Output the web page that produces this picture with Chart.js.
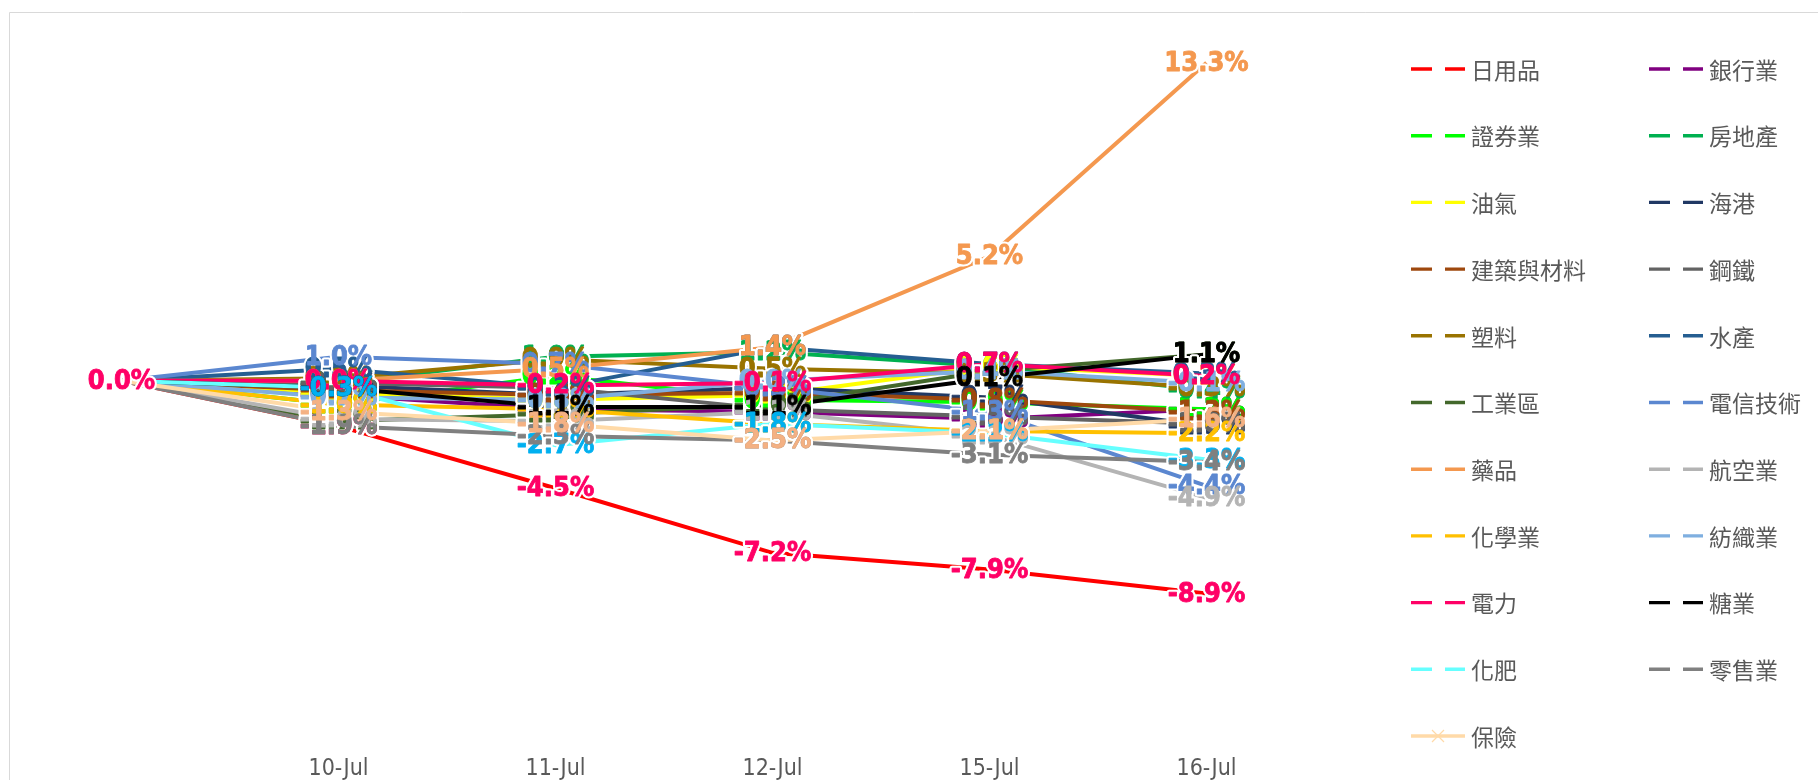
<!DOCTYPE html>
<html><head><meta charset="utf-8">
<script src="https://cdn.jsdelivr.net/npm/chart.js@4.4.1/dist/chart.umd.min.js"></script>
<style>html,body{margin:0;padding:0;background:#fff;overflow:hidden}canvas{display:block}</style>
</head><body><canvas id="c" width="1818" height="780"></canvas>
<script>
// ---- data ----
const categories = ['', '10-Jul', '11-Jul', '12-Jul', '15-Jul', '16-Jul'];
const seriesNames = ['日用品','銀行業','證券業','房地產','油氣','海港','建築與材料','鋼鐵','塑料','水產','工業區','電信技術','藥品','航空業','化學業','紡織業','電力','糖業','化肥','零售業','保險'];
const dailyGoods      = [0, -1.9, -4.5, -7.2, -7.9, -8.9];
const banking         = [0, -0.6, -1.2, -1.3, -1.6, -1.2];
const securities      = [0, -1.0,  0.2, -0.8, -0.9, -1.2];
const realEstate      = [0, -0.1,  1.0,  1.2,  0.6, -0.4];
const oilGas          = [0, -0.5, -0.8, -0.6,  0.6,  0.2];
const ports           = [0, -0.2, -0.6, -0.3, -0.7, -1.9];
const construction    = [0, -0.4, -0.6, -0.5, -0.8, -1.3];
const steel           = [0, -0.1, -0.3, -1.2, -1.5, -1.8];
const plastics        = [0,  0.1,  0.9,  0.5,  0.3, -0.3];
const seafood         = [0,  0.5, -0.3,  1.4,  0.7,  0.3];
const industrialZones = [0, -1.7, -1.4, -1.0,  0.4,  1.1];
const telecom         = [0,  1.0,  0.7, -0.3, -1.3, -4.4];
const pharma          = [0,  0.0,  0.5,  1.4,  5.2, 13.3];
const aviation        = [0, -1.6, -1.7, -1.3, -2.3, -4.9];
const chemicals       = [0, -1.0, -1.2, -1.8, -2.1, -2.2];
const textiles        = [0, -0.7, -0.8,  0.0,  0.4, -0.1];
const power           = [0,  0.0, -0.2, -0.1,  0.7,  0.2];
const sugar           = [0, -0.3, -1.1, -1.1,  0.1,  1.1];
const fertilizer      = [0, -0.3, -2.7, -1.8, -2.2, -3.3];
const retail          = [0, -1.9, -2.3, -2.5, -3.1, -3.4];
const insurance       = [0, -1.3, -1.8, -2.5, -2.1, -1.6];
const seriesValues = [dailyGoods, banking, securities, realEstate, oilGas, ports, construction, steel, plastics, seafood, industrialZones, telecom, pharma, aviation, chemicals, textiles, power, sugar, fertilizer, retail, insurance];

// ---- styles ----
const lineColors = ['#FF0000','#800080','#00FF00','#00B050','#FFFF00','#203864','#9E480E','#636363','#997300','#255E91','#43682B','#5B87D0','#F4984F','#B4B4B4','#FFC000','#7FAFE0','#FF0066','#000000','#66FFFF','#808080','#FFDAA8'];
const labelColors = ['#FF0066','#800080','#00FF00','#00B050','#FFFF00','#203864','#9E480E','#636363','#997300','#255E91','#43682B','#5B87D0','#F4984F','#B4B4B4','#FFC000','#7FAFE0','#FF0066','#000000','#00B0F0','#808080','#F4B183'];
const LABEL_FONT = "bold 27px 'DejaVu Sans Condensed', 'DejaVu Sans', sans-serif";

const datasets = seriesValues.map((vals, i) => ({
  label: seriesNames[i],
  data: vals,
  borderColor: lineColors[i],
  backgroundColor: lineColors[i],
  borderWidth: 4,
  pointRadius: 0,
  pointHoverRadius: 0,
  tension: 0,
  fill: false,
  order: seriesValues.length - i
}));

const framePlugin = {
  id: 'frame',
  beforeDraw(chart) {
    const ctx = chart.ctx;
    ctx.save();
    ctx.fillStyle = '#fff';
    ctx.fillRect(0, 0, chart.width, chart.height);
    ctx.strokeStyle = '#D9D9D9';
    ctx.lineWidth = 1;
    ctx.beginPath();
    ctx.moveTo(9.5, chart.height);
    ctx.lineTo(9.5, 12.5);
    ctx.lineTo(chart.width, 12.5);
    ctx.stroke();
    ctx.restore();
  }
};

const labelPlugin = {
  id: 'valueLabels',
  afterDatasetsDraw(chart) {
    const ctx = chart.ctx;
    ctx.save();
    ctx.font = LABEL_FONT;
    ctx.textAlign = 'center';
    ctx.textBaseline = 'middle';
    ctx.lineJoin = 'round';
    const items = [];
    chart.data.datasets.forEach((ds, i) => {
      const meta = chart.getDatasetMeta(i);
      meta.data.forEach((pt, j) => {
        if (j === 0 && i !== 0) return;
        items.push({ txt: ds.data[j].toFixed(1) + '%', x: pt.x, y: pt.y + 1, color: labelColors[i] });
      });
    });
    // white glow first, so lines are hidden under labels
    ctx.strokeStyle = '#ffffff';
    ctx.lineWidth = 5;
    items.forEach(it => ctx.strokeText(it.txt, it.x, it.y));
    ctx.lineWidth = 0.8;
    items.forEach(it => {
      ctx.fillStyle = it.color; ctx.strokeStyle = it.color;
      ctx.fillText(it.txt, it.x, it.y);
      ctx.strokeText(it.txt, it.x, it.y);
    });
    ctx.restore();
  }
};

const legendPlugin = {
  id: 'sideLegend',
  afterDraw(chart) {
    const ctx = chart.ctx;
    ctx.save();
    ctx.font = "23px 'Noto Sans CJK TC', sans-serif";
    ctx.textBaseline = 'middle';
    ctx.textAlign = 'left';
    const colX = [1411, 1649];
    chart.data.datasets.forEach((ds, i) => {
      const col = i % 2, row = Math.floor(i / 2);
      const x = colX[col], y = 69 + row * 66.7;
      ctx.strokeStyle = ds.borderColor;
      ctx.lineWidth = 3.4;
      ctx.lineCap = 'butt';
      ctx.beginPath();
      if (i === chart.data.datasets.length - 1) {
        ctx.moveTo(x, y); ctx.lineTo(x + 54, y);
        ctx.stroke();
        ctx.lineWidth = 1.2;
        ctx.beginPath();
        const cx = x + 27, r = 6;
        ctx.moveTo(cx - r, y - r); ctx.lineTo(cx + r, y + r);
        ctx.moveTo(cx - r, y + r); ctx.lineTo(cx + r, y - r);
        ctx.stroke();
      } else {
        ctx.moveTo(x, y); ctx.lineTo(x + 21, y);
        ctx.moveTo(x + 34, y); ctx.lineTo(x + 54, y);
        ctx.stroke();
      }
      ctx.fillStyle = '#595959';
      ctx.fillText(ds.label, x + 60, y + 1);
    });
    ctx.restore();
  }
};

new Chart(document.getElementById('c'), {
  type: 'line',
  data: { labels: categories, datasets },
  plugins: [framePlugin, labelPlugin, legendPlugin],
  options: {
    responsive: false,
    animation: false,
    devicePixelRatio: 1,
    layout: { padding: { top: 22, left: 13, right: 503, bottom: 0 } },
    plugins: { legend: { display: false }, tooltip: { enabled: false } },
    scales: {
      x: {
        offset: true,
        grid: { display: false },
        border: { display: false },
        ticks: { color: '#595959', padding: 22, font: { family: "'DejaVu Sans Condensed', 'DejaVu Sans', sans-serif", size: 23 } },
        afterFit(scale) { scale.height = 55; }
      },
      y: { display: false, min: -14.4, max: 15.0 }
    }
  }
});
</script></body></html>
